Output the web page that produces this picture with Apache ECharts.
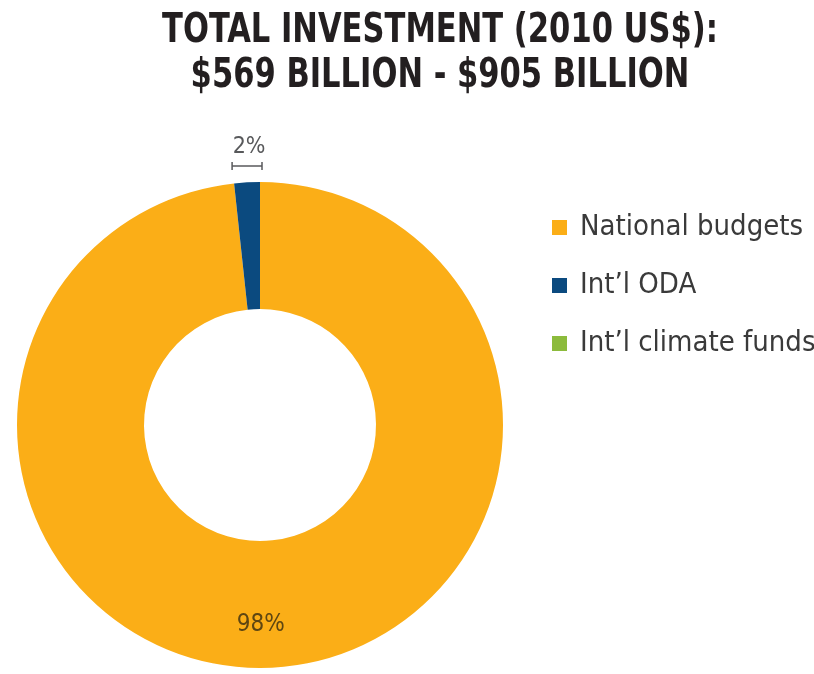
<!DOCTYPE html>
<html>
<head>
<meta charset="utf-8">
<script src="https://cdn.jsdelivr.net/npm/echarts@6/dist/echarts.min.js"></script>
<style>
  html, body { margin: 0; padding: 0; background: #fff; }
  #chart { width: 814px; height: 674px; }
</style>
</head>
<body>
<div id="chart"></div>
<script>
const categories = ['National budgets', 'Int\u2019l ODA', 'Int\u2019l climate funds']
const shares = [98.3, 1.7, 0]
const colors = ['#FBAE17', '#0B4A7F', '#8CBB3C']
const titleLines = ['TOTAL INVESTMENT (2010 US$):', '$569 BILLION - $905 BILLION']

const font = '"DejaVu Sans Condensed", "DejaVu Sans", sans-serif'
const cx = 260
const cy = 425
const rIn = 116
const rOut = 243

const total = shares.reduce((a, b) => a + b, 0)
const pct = v => Math.round(v / total * 100) + '%'

// big slice runs clockwise from 12 o'clock, the small one fills the gap back to the top
const smallStart = (90 - shares[0] / total * 360) * Math.PI / 180
const bx0 = cx + rOut * Math.cos(smallStart) - 2
const bx1 = cx + 2
const by = 166

const chart = echarts.init(document.getElementById('chart'))
chart.setOption({
  animation: false,
  legend: {
    orient: 'vertical',
    left: 552,
    top: 213,
    padding: 0,
    itemWidth: 15,
    itemHeight: 15,
    itemGap: 29,
    icon: 'rect',
    data: categories,
    textStyle: {
      fontFamily: font,
      fontSize: 29,
      color: '#3a3a3a',
      padding: [0, 0, 0, 8]
    }
  },
  graphic: [
    {
      // title, squeezed to the narrow face of the original
      type: 'text',
      x: 440,
      y: 9,
      scaleX: 0.85,
      style: {
        text: titleLines.join('\n'),
        font: 'bold 40px ' + font,
        lineHeight: 45,
        textAlign: 'center',
        textVerticalAlign: 'top',
        fill: '#231f20'
      }
    },
    {
      type: 'text',
      x: (bx0 + bx1) / 2 + 2,
      y: 136,
      style: {
        text: pct(shares[1] + shares[2]),
        font: '23px ' + font,
        textAlign: 'center',
        textVerticalAlign: 'top',
        fill: '#58595b'
      }
    },
    {
      type: 'group',
      children: [
        { type: 'line', shape: { x1: bx0, y1: by, x2: bx1, y2: by }, style: { stroke: '#58595b', lineWidth: 1.5 } },
        { type: 'line', shape: { x1: bx0, y1: by - 4, x2: bx0, y2: by + 4 }, style: { stroke: '#58595b', lineWidth: 1.5 } },
        { type: 'line', shape: { x1: bx1, y1: by - 4, x2: bx1, y2: by + 4 }, style: { stroke: '#58595b', lineWidth: 1.5 } }
      ]
    }
  ],
  series: [
    {
      type: 'pie',
      center: [cx, cy],
      radius: [rIn, rOut],
      startAngle: 90,
      avoidLabelOverlap: false,
      emphasis: { disabled: true },
      itemStyle: { borderWidth: 0 },
      labelLine: { show: false },
      data: categories.map((name, i) => ({
        name: name,
        value: shares[i],
        itemStyle: { color: colors[i] },
        label: i === 0 ? {
          show: true,
          position: 'inside',
          formatter: p => '\n' + pct(p.value),
          fontFamily: font,
          fontSize: 24,
          lineHeight: 36,
          color: '#5e4612',
          padding: [0, 18, 0, 0]
        } : { show: false }
      }))
    }
  ]
})
</script>
</body>
</html>
